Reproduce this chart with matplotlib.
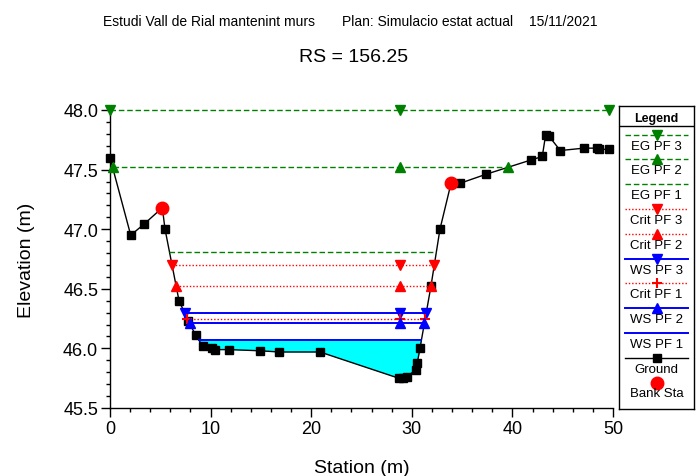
import matplotlib
matplotlib.use("Agg")
import matplotlib.pyplot as plt
from matplotlib.ticker import MultipleLocator, FormatStrFormatter
import numpy as np

plt.rcParams['font.family'] = ['Liberation Sans', 'DejaVu Sans']

# Cross-section ground geometry (station, elevation)
station = [0.0, 2.06, 3.35, 5.2, 5.47, 6.86, 7.79, 8.52, 9.21, 10.1, 10.44, 11.83,
           14.9, 16.83, 20.87, 28.7, 29.1, 29.5, 30.39, 30.55, 30.81, 31.9, 32.8,
           33.9, 34.79, 37.35, 41.82, 42.97, 43.3, 43.64, 44.76, 47.12, 48.38,
           48.6, 49.63]
elevation = [47.60, 46.95, 47.04, 47.18, 47.00, 46.40, 46.23, 46.11, 46.02, 46.00,
             45.99, 45.99, 45.98, 45.97, 45.97, 45.75, 45.75, 45.76, 45.82, 45.88,
             46.00, 46.52, 47.00, 47.385, 47.385, 47.46, 47.58, 47.61, 47.79, 47.78,
             47.66, 47.68, 47.68, 47.67, 47.67]

# Bank stations
bank_station = [5.2, 33.9]
bank_elev = [47.18, 47.385]

# Computed water levels per profile (legend order)
profiles = ["EG PF 3", "EG PF 2", "EG PF 1", "Crit PF 3", "Crit PF 2",
            "WS PF 3", "Crit PF 1", "WS PF 2", "WS PF 1"]
levels = [48.00, 47.52, 46.81, 46.70, 46.52, 46.30, 46.25, 46.21, 46.07]
marker_station = 28.8

GREEN, RED, BLUE = "#008000", "#ff0000", "#0000ff"
DASH = (0, (4, 2))
DOT = (0, (1, 1.4))
styles = {
    "EG PF 3": dict(color=GREEN, ls=DASH, lw=1.0, marker="v", ms=7),
    "EG PF 2": dict(color=GREEN, ls=DASH, lw=1.0, marker="^", ms=7),
    "EG PF 1": dict(color=GREEN, ls=DASH, lw=1.0, marker=None, ms=0),
    "Crit PF 3": dict(color=RED, ls=DOT, lw=1.0, marker="v", ms=7),
    "Crit PF 2": dict(color=RED, ls=DOT, lw=1.0, marker="^", ms=7),
    "WS PF 3": dict(color=BLUE, ls="-", lw=1.4, marker="v", ms=7),
    "Crit PF 1": dict(color=RED, ls=DOT, lw=1.0, marker="+", ms=7),
    "WS PF 2": dict(color=BLUE, ls="-", lw=1.4, marker="^", ms=7),
    "WS PF 1": dict(color=BLUE, ls="-", lw=1.4, marker=None, ms=0),
}

sta = np.array(station)
elv = np.array(elevation)


def wetted_extent(level):
    """Left/right stations where a level meets the ground, searched outward from the thalweg."""
    i0 = int(np.argmin(elv))
    left, right = sta[0], sta[-1]
    for i in range(i0, 0, -1):
        if elv[i - 1] >= level:
            left = np.interp(level, [elv[i], elv[i - 1]], [sta[i], sta[i - 1]])
            break
    for i in range(i0, len(sta) - 1):
        if elv[i + 1] >= level:
            right = np.interp(level, [elv[i], elv[i + 1]], [sta[i], sta[i + 1]])
            break
    return left, right


fig = plt.figure(figsize=(6.97, 4.77), dpi=100)
ax = fig.add_axes([110 / 697, 1 - 409 / 477, 503 / 697, 298 / 477])

# Wetted area of the lowest profile
wl, wr = wetted_extent(levels[-1])
xf = np.concatenate([[wl], sta[(sta > wl) & (sta < wr)], [wr]])
yf = np.interp(xf, sta, elv)
ax.fill_between(xf, yf, levels[-1], color="#00ffff", lw=0, zorder=1)

# Ground line
ax.plot(sta, elv, color="black", lw=1.0, marker="s", ms=5.5, zorder=3, clip_on=False)
ax.plot(bank_station, bank_elev, ls="none", marker="o", color=RED, ms=9, zorder=4,
        clip_on=False)

for name, lev in zip(profiles, levels):
    st = styles[name]
    l, r = wetted_extent(lev)
    ax.plot([l, r], [lev, lev], color=st["color"], ls=st["ls"], lw=st["lw"], zorder=5,
            clip_on=False)
    if st["marker"]:
        mx = [l, marker_station, r]
        ax.plot(mx, [lev] * 3, ls="none", marker=st["marker"], color=st["color"],
                ms=st["ms"], mew=1.5 if st["marker"] == "+" else 1, zorder=6,
                clip_on=False)

ax.set_xlim(0, 50)
ax.set_ylim(45.5, 48.0)
ax.xaxis.set_major_locator(MultipleLocator(10))
ax.xaxis.set_minor_locator(MultipleLocator(2))
ax.yaxis.set_major_locator(MultipleLocator(0.5))
ax.yaxis.set_minor_locator(MultipleLocator(0.1))
ax.yaxis.set_major_formatter(FormatStrFormatter("%.1f"))
for s in ("top", "right"):
    ax.spines[s].set_visible(False)
for s in ("left", "bottom"):
    ax.spines[s].set_linewidth(1.0)
ax.tick_params(which="major", direction="out", length=6.5, width=1.0, labelsize=13, pad=2)
ax.tick_params(which="minor", direction="out", length=3.2, width=1.0)
ax.set_xlabel("Station (m)", fontsize=14)
ax.set_ylabel("Elevation (m)", fontsize=14)
ax.xaxis.set_label_coords(0.5, (409 - 460) / 298)
ax.yaxis.set_label_coords((35 - 110) / 503, 0.5)

# Header and title
fig.text(103 / 697, 1 - 22 / 477, "Estudi Vall de Rial mantenint murs", fontsize=10,
         ha="left", va="center")
fig.text(342 / 697, 1 - 22 / 477, "Plan: Simulacio estat actual", fontsize=10,
         ha="left", va="center")
fig.text(529 / 697, 1 - 22 / 477, "15/11/2021", fontsize=10, ha="left", va="center")
fig.text(354 / 697, 1 - 57 / 477, "RS = 156.25", fontsize=14, ha="center", va="center")

# Boxed legend with samples stacked above labels
lg = fig.add_axes([619 / 697, 1 - 410 / 477, 75 / 697, 303 / 477])
lg.set_xlim(619, 694)
lg.set_ylim(410, 107)
lg.set_xticks([])
lg.set_yticks([])
for s in lg.spines.values():
    s.set_linewidth(1.0)
lg.text(656.5, 118.5, "Legend", fontsize=9, fontweight="bold", ha="center", va="center")
lg.plot([619, 694], [127, 127], color="black", lw=1.0)

entries = profiles + ["Ground", "Bank Sta"]
for k, name in enumerate(entries):
    y = 135.5 + k * 24.8
    if name in styles:
        st = styles[name]
        lg.plot([625, 688], [y, y], color=st["color"], ls=st["ls"], lw=st["lw"])
        if st["marker"]:
            lg.plot([656.5], [y], ls="none", marker=st["marker"], color=st["color"],
                    ms=st["ms"], mew=1.5 if st["marker"] == "+" else 1)
    elif name == "Ground":
        lg.plot([625, 688], [y, y], color="black", lw=1.0)
        lg.plot([656.5], [y], ls="none", marker="s", color="black", ms=5.5)
    else:
        lg.plot([656.5], [y], ls="none", marker="o", color=RED, ms=9)
    lg.text(656.5, y + 11, name, fontsize=9.5, ha="center", va="center")

fig.savefig("out.png", dpi=100)
